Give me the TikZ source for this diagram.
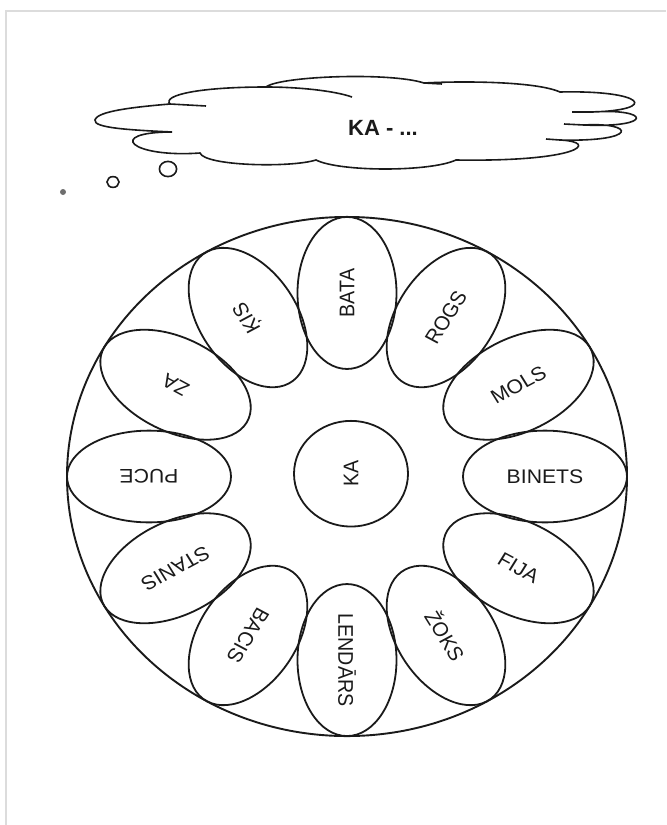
\documentclass[tikz,border=0pt]{standalone}
\usepackage{fontspec}
\setmainfont{Liberation Sans}
\definecolor{whInk}{HTML}{1A1A1A}
\definecolor{whEdge}{HTML}{DCDCDC}
\definecolor{whDot}{HTML}{6E6E6E}
\tikzset{
  wh rim/.style={draw=whInk, line width=0.95pt},
  wh petal/.style={draw=whInk, line width=0.9pt},
  wh hub/.style={circle, draw=whInk, line width=0.9pt, minimum size=57pt, inner sep=0pt},
  wh label/.style={font=\fontsize{10.6}{12}\selectfont, text=whInk, inner sep=1pt},
  wh cloud/.style={draw=whInk, line width=0.8pt, fill=white},
  wh puff/.style={draw=whInk, line width=0.8pt},
}

\begin{document}
\begin{tikzpicture}[x=0.5pt, y=-0.5pt]
  \useasboundingbox (0,0) rectangle (666,825);
  % page edge
  \draw[whEdge, line width=1pt] (6,825) -- (6,11) -- (666,11);
  % thought cloud
  \draw[wh cloud] (172,132)
    .. controls (130,130) and (93,128) .. (95,120)
    .. controls (97,111) and (135,107) .. (170,104)
    .. controls (162,95) and (200,87) .. (266,87)
    .. controls (280,76) and (390,72) .. (424,83)
    .. controls (460,81) and (535,81) .. (560,92)
    .. controls (645,90) and (660,110) .. (592,112)
    .. controls (650,108) and (655,128) .. (584,125)
    .. controls (635,122) and (640,142) .. (560,140)
    .. controls (600,142) and (580,162) .. (456,160)
    .. controls (430,172) and (340,172) .. (316,160)
    .. controls (290,168) and (205,166) .. (200,153)
    .. controls (130,158) and (105,132) .. (172,132) -- cycle;
  \draw[wh puff] (170,104) -- (206,106);
  \draw[wh puff] (266,87) .. controls (300,87) and (335,91) .. (352,97);
  \draw[wh puff] (424,83) -- (442,84);
  \draw[wh puff] (592,112) -- (572,112);
  \draw[wh puff] (584,125) -- (564,124);
  \draw[wh puff] (560,140) -- (546,139);
  \node[wh label, font=\fontsize{11}{13}\selectfont\bfseries] (thought) at (383,128) {KA - ...};
  \draw[wh puff] (168,169) ellipse[x radius=4.3pt, y radius=3.8pt];
  \draw[wh puff] (113,182) ellipse[x radius=3pt, y radius=2.7pt];
  \fill[whDot] (63,192) circle[radius=1.5pt];
  % the wheel of syllables
  \begin{scope}[shift={(347,476.5)}, x=0.5pt, y=0.5pt, yscale=0.927, every node/.append style={transform shape}]
    \draw[wh rim] (0,0) circle[radius=280];
    \node[wh hub, wh label, rotate=90] (ka) at (4,3) {KA};
    \foreach \a/\w/\nm in {90/BATA/bata, 60/ROGS/rogs, 30/MOLS/mols, 0/BINETS/binets,
        -30/FIJA/fija, -60/ŽOKS/zoks, -90/LENDĀRS/lendars, -120/BACIS/bacis,
        -150/STANIS/stanis, 180/PUCE/puce, 150/ZA/za, 120/ĶIS/kis} {
      \draw[wh petal, shift={(\a:198)}, rotate=\a] (0,0) ellipse[x radius=82, y radius=49.5];
      \node[wh label, rotate=\a] (\nm) at (\a:198) {\w};
    }
  \end{scope}
\end{tikzpicture}
\end{document}
